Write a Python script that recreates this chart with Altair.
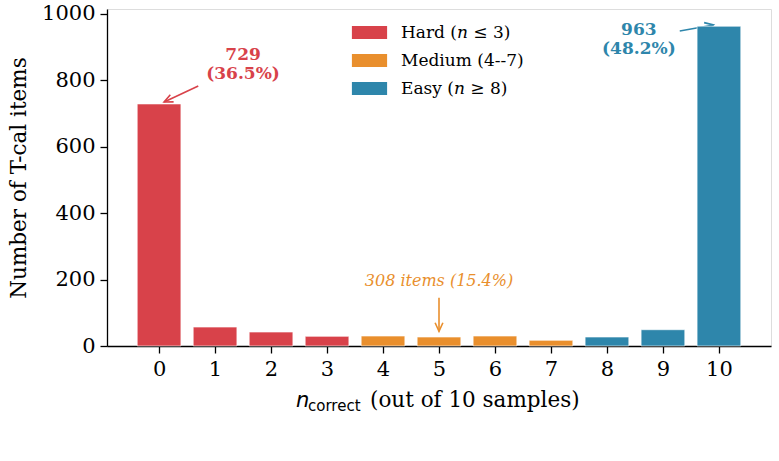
import altair as alt
import pandas as pd

# Distribution of correct answers over 10 samples per item
n_correct = list(range(11))
counts = [729, 57, 42, 29, 30, 27, 30, 17, 27, 49, 963]
groups = ["Hard"] * 4 + ["Medium"] * 4 + ["Easy"] * 3
group_labels = ["Hard (𝑛 ≤ 3)", "Medium (4--7)", "Easy (𝑛 ≥ 8)"]
group_colors = ["#D8424A", "#E98F2D", "#2E86AB"]
y_ticks = [0, 200, 400, 600, 800, 1000]

SERIF = "DejaVu Serif"
total = sum(counts)


def pct(c):
    return round(c * 1000 / total + 1e-9) / 10


label_of = dict(zip(["Hard", "Medium", "Easy"], group_labels))
bars = pd.DataFrame({"n": n_correct, "count": counts,
                     "group": [label_of[g] for g in groups]})
bars["x0"] = bars["n"] - 0.39
bars["x1"] = bars["n"] + 0.39

medium_total = total - counts[0] - counts[-1]

# callouts: text anchor, arrow tail and head (data space)
notes = pd.DataFrame({
    "text": [f"{counts[0]}\n({pct(counts[0])}%)",
             f"{counts[-1]}\n({pct(counts[-1])}%)"],
    "tx": [1.5, 8.57], "ty": [877, 953],
    "color": [group_colors[0], group_colors[2]],
})
arrows = pd.DataFrame({
    "x": [0.70, 9.30, 5.0], "y": [783, 949, 145],
    "x2": [0.09, 9.90, 5.0], "y2": [735, 967, 44],
    "angle": [245, 80, 180],
    "color": [group_colors[0], group_colors[2], group_colors[1]],
})
mid_note = pd.DataFrame({"text": [f"{medium_total} items ({pct(medium_total)}%)"],
                         "tx": [5.0], "ty": [196]})

xscale = alt.Scale(domain=[-0.93, 10.93], nice=False, zero=False)
yscale = alt.Scale(domain=[0, 1015], nice=False)

x_axis = alt.Axis(values=n_correct, format="d", title=None, grid=False,
                  labelFont=SERIF, labelFontSize=21, labelColor="black",
                  domainColor="black", tickColor="black", tickSize=7,
                  labelPadding=5, domainWidth=1.3, tickWidth=1.3)
y_axis = alt.Axis(values=y_ticks, format="d", title="Number of T-cal items",
                  grid=False,
                  labelFont=SERIF, labelFontSize=21, labelColor="black",
                  titleFont=SERIF, titleFontSize=21.5, titleFontWeight="normal",
                  titleColor="black", titlePadding=11,
                  domainColor="black", tickColor="black", tickSize=7,
                  labelPadding=5, domainWidth=1.3, tickWidth=1.3)

arrow_lines = alt.Chart(arrows).mark_rule(strokeWidth=1.6).encode(
    x=alt.X("x:Q", scale=xscale, axis=x_axis),
    y=alt.Y("y:Q", scale=yscale, axis=y_axis),
    x2="x2:Q", y2="y2:Q",
    color=alt.Color("color:N", scale=None),
)
arrow_heads = alt.Chart(arrows).mark_point(
    shape="M-0.45,1L0,0L0.45,1", filled=False, strokeWidth=1.6, size=300, opacity=1
).encode(
    x=alt.X("x2:Q", scale=xscale), y=alt.Y("y2:Q", scale=yscale),
    angle=alt.Angle("angle:Q", scale=None),
    color=alt.Color("color:N", scale=None),
)

bar_layer = alt.Chart(bars).mark_rect(stroke="white", strokeWidth=0.6).encode(
    x=alt.X("x0:Q", scale=xscale),
    x2="x1:Q",
    y=alt.Y("count:Q", scale=yscale),
    y2=alt.datum(0),
    color=alt.Color(
        "group:N",
        scale=alt.Scale(domain=group_labels, range=group_colors),
        legend=alt.Legend(
            title=None, orient="none", legendX=254, legendY=15,
            symbolType="M-2.2,-0.8H2.2V0.8H-2.2Z", symbolSize=256,
            symbolStrokeWidth=0, symbolOpacity=1,
            labelFont=SERIF, labelFontSize=17, labelColor="black",
            labelOffset=23, rowPadding=10, padding=0,
        ),
    ),
)

note_text = alt.Chart(notes).mark_text(
    font=SERIF, fontSize=17, fontWeight="bold", lineBreak="\n",
    lineHeight=19, align="center", baseline="middle",
).encode(
    x=alt.X("tx:Q", scale=xscale), y=alt.Y("ty:Q", scale=yscale),
    text="text:N", color=alt.Color("color:N", scale=None),
)

mid_text = alt.Chart(mid_note).mark_text(
    font=SERIF, fontSize=16, fontStyle="italic", align="center",
    baseline="middle", color=group_colors[1],
).encode(
    x=alt.X("tx:Q", scale=xscale), y=alt.Y("ty:Q", scale=yscale), text="text:N",
)

# x-axis title with a subscripted n_correct
title_n = alt.Chart(mid_note).mark_text(
    font="DejaVu Sans", fontSize=21, fontStyle="italic", align="left",
    baseline="alphabetic", color="black",
).encode(x=alt.value(189), y=alt.value(398), text=alt.value("n"))
title_sub = alt.Chart(mid_note).mark_text(
    font="DejaVu Sans", fontSize=15, align="left", baseline="alphabetic",
    color="black",
).encode(x=alt.value(201), y=alt.value(402), text=alt.value("correct"))
title_rest = alt.Chart(mid_note).mark_text(
    font=SERIF, fontSize=21.5, align="left", baseline="alphabetic", color="black",
).encode(x=alt.value(263), y=alt.value(398), text=alt.value("(out of 10 samples)"))

chart = alt.layer(
    arrow_lines, arrow_heads, bar_layer, note_text, mid_text,
    title_n, title_sub, title_rest,
).properties(
    width=664, height=337,
    padding={"left": 107, "top": 9, "right": 8, "bottom": 115},
    autosize="none",
).configure_view(stroke=None).configure(background="white")

chart.save("out.html", embed_options={"renderer": "svg", "actions": False})
